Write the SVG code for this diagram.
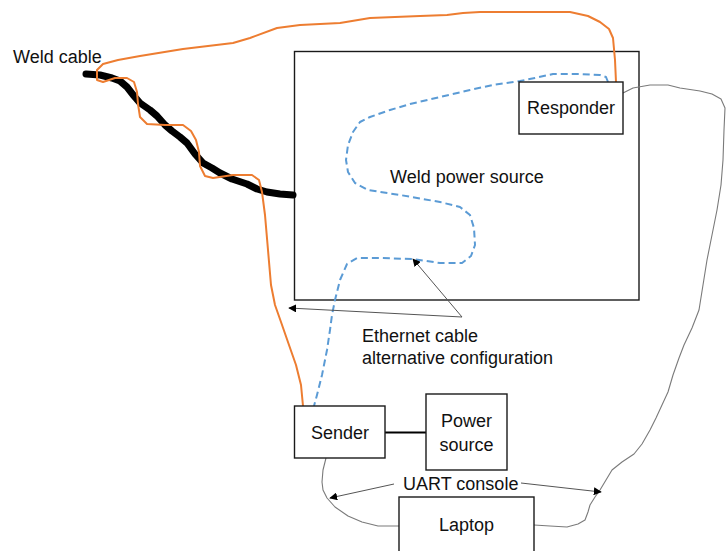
<svg xmlns="http://www.w3.org/2000/svg" width="726" height="551" viewBox="0 0 726 551">
  <style>
    .box { fill: #ffffff; stroke: #1a1a1a; stroke-width: 1.4; }
    .lbl { font-family: "Liberation Sans", Arial, sans-serif; font-size: 18px; fill: #111111; }
    .mid { text-anchor: middle; }
    .wire { fill: none; stroke: #7a7a7a; stroke-width: 1.1; stroke-linejoin: round; }
    .pointer { fill: none; stroke: #555555; stroke-width: 1; }
    .weld { fill: none; stroke: #000000; stroke-width: 7; stroke-linejoin: round; stroke-linecap: round; }
    .orange { fill: none; stroke: #ED7D31; stroke-width: 2; stroke-linejoin: round; stroke-linecap: round; }
    .eth { fill: none; stroke: #5B9BD5; stroke-width: 2; stroke-dasharray: 7 4; stroke-linejoin: round; }
  </style>
  <defs>
    <marker id="tip" viewBox="0 0 10 10" refX="9" refY="5" markerWidth="8" markerHeight="8" markerUnits="userSpaceOnUse" orient="auto">
      <path d="M0,0 L10,5 L0,10 Z" fill="#000000"/>
    </marker>
  </defs>

  <!-- Weld power source enclosure -->
  <g id="weld-power-source">
    <rect class="box" x="294.5" y="51.5" width="344.5" height="248.5" fill="none"/>
    <text class="lbl" x="390" y="183">Weld power source</text>
  </g>

  <!-- Labels without boxes -->
  <g id="weld-cable-label">
    <text class="lbl" x="13" y="63">Weld cable</text>
  </g>
  <g id="ethernet-label">
    <text class="lbl" x="362" y="342">Ethernet cable</text>
    <text class="lbl" x="362" y="364">alternative configuration</text>
  </g>
  <g id="uart-label">
    <text class="lbl" x="403" y="490">UART console</text>
  </g>

  <!-- Cables and connectors -->
  <g id="connectors">
    <!-- thick weld cable -->
    <path class="weld" d="M86,74 L100,75 L112,78 L120,81 L127,87 L134,96 L140,103 L150,110 L157,116 L165,125 L172,131 L180,137 L187,143 L195,154 L203,163 L212,168 L220,173 L232,179 L247,184 L257,189 L267,192 L280,194 L293,195"/>
    <!-- orange cable wound around the weld cable -->
    <path class="orange" d="M616,82 L615,60 L613,38 L609,29 L600,22 L588,16 L570,12 L540,12 L480,12 L463,13 L447,15 L420,16 L370,18 L340,23 L300,25 L277,28 L250,38 L233,43 L183,49 L140,56 L118,60 L103,64 L97,70 L97,80 L103,82 L115,78 L127,78 L134,82 L137,92 L138,104 L140,117 L147,124 L165,125 L183,125 L191,131 L196,140 L199,152 L200,166 L205,176 L213,178 L233,175 L252,175 L259,180 L262,192 L265,215 L268,250 L271,285 L275,305 L281,322 L289,345 L296,365 L301,385 L303,406"/>
    <!-- dashed ethernet cable -->
    <path class="eth" d="M608,82 L606,77 L600,75 L580,74 L553,74 L535,78 L520,81 L493,85 L470,90 L440,97 L410,104 L390,110 L370,117 L360,122 L353,132 L348,145 L346,160 L348,172 L355,183 L368,190 L400,195 L440,202 L460,207 L470,215 L474,228 L475,245 L471,256 L462,263 L440,263 L413,259 L380,258 L357,258 L347,264 L340,280 L335,300 L332,315 L330,330 L327,350 L322,375 L317,395 L314,406"/>
    <!-- sender to power source -->
    <line x1="385" y1="432.5" x2="426" y2="432.5" stroke="#000000" stroke-width="2"/>
    <!-- UART wire: sender to laptop -->
    <path class="wire" d="M326,458 L323,470 L322,482 L323,490 L327,498 L335,507 L348,516 L362,522 L378,526 L399,526"/>
    <!-- UART wire: laptop to responder -->
    <path class="wire" d="M534,525 L550,526 L567,527 L578,524 L585,520 L588,512 L590,505 L595,497 L600,490 L606,480 L612,470 L622,462 L634,454 L642,444 L650,430 L656,418 L662,405 L668,392 L673,375 L679,358 L684,345 L692,328 L699,310 L703,285 L707,260 L712,235 L717,210 L721,185 L723,160 L724,130 L725,108 L721,99 L712,94 L700,91 L680,88 L668,85 L650,85 L633,88 L623,93"/>
    <!-- pointers from labels -->
    <line class="pointer" x1="462" y1="317" x2="413" y2="259" marker-end="url(#tip)"/>
    <line class="pointer" x1="462" y1="317" x2="289" y2="308" marker-end="url(#tip)"/>
    <line class="pointer" x1="394" y1="484" x2="330" y2="498" marker-end="url(#tip)"/>
    <line class="pointer" x1="521" y1="483" x2="601" y2="492" marker-end="url(#tip)"/>
  </g>

  <!-- Devices -->
  <g id="responder">
    <rect class="box" x="519" y="82" width="104" height="52"/>
    <text class="lbl mid" x="571" y="114">Responder</text>
  </g>
  <g id="sender">
    <rect class="box" x="294.5" y="406" width="90.5" height="52"/>
    <text class="lbl mid" x="340" y="439">Sender</text>
  </g>
  <g id="power-source">
    <rect class="box" x="426" y="394" width="81" height="76"/>
    <text class="lbl mid" x="466.5" y="427">Power</text>
    <text class="lbl mid" x="466.5" y="451">source</text>
  </g>
  <g id="laptop">
    <rect class="box" x="399" y="497" width="135" height="60"/>
    <text class="lbl mid" x="466.5" y="531">Laptop</text>
  </g>
</svg>
